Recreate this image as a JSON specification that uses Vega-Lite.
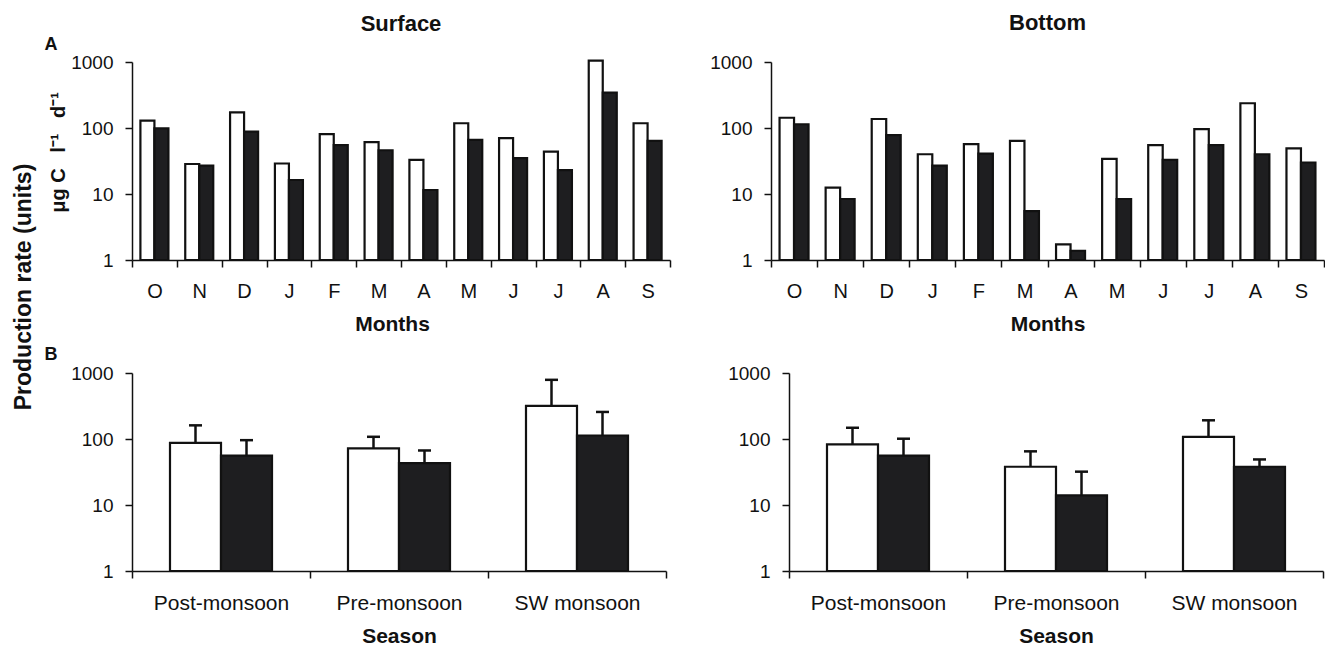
{
  "$schema": "https://vega.github.io/schema/vega-lite/v6.json",
  "padding": {"left": 12, "top": 12, "right": 0, "bottom": 0},
  "background": "white",
  "config": {
    "view": {"stroke": null},
    "font": "Liberation Sans",
    "title": {"font": "Liberation Sans", "fontSize": 22, "fontWeight": "bold", "color": "#111", "offset": 18, "frame": "group"},
    "axis": {"domainColor": "#111", "domainWidth": 1.5, "tickColor": "#111", "tickWidth": 1.5, "tickSize": 7, "labelFont": "Liberation Sans", "labelColor": "#111", "titleFont": "Liberation Sans", "titleColor": "#111", "titleFontWeight": "bold", "titleFontSize": 21, "grid": false},
    "axisX": {"labelFontSize": 20, "labelPadding": 14, "titlePadding": 12, "labelAngle": 0, "tickBand": "extent"},
    "axisY": {"labelFontSize": 19, "labelPadding": 12}
  },
  "title": {"text": "Production rate (units)", "orient": "left", "anchor": "middle", "fontSize": 23, "offset": 9, "frame": "bounds", "dx": 42},
  "datasets": {
    "months": [
      {"depth": "Surface", "month": "Oct", "series": "open", "value": 129},
      {"depth": "Surface", "month": "Oct", "series": "filled", "value": 99},
      {"depth": "Surface", "month": "Nov", "series": "open", "value": 28.5},
      {"depth": "Surface", "month": "Nov", "series": "filled", "value": 27},
      {"depth": "Surface", "month": "Dec", "series": "open", "value": 173},
      {"depth": "Surface", "month": "Dec", "series": "filled", "value": 88},
      {"depth": "Surface", "month": "Jan", "series": "open", "value": 29},
      {"depth": "Surface", "month": "Jan", "series": "filled", "value": 16.3},
      {"depth": "Surface", "month": "Feb", "series": "open", "value": 81},
      {"depth": "Surface", "month": "Feb", "series": "filled", "value": 55},
      {"depth": "Surface", "month": "Mar", "series": "open", "value": 61},
      {"depth": "Surface", "month": "Mar", "series": "filled", "value": 46},
      {"depth": "Surface", "month": "Apr", "series": "open", "value": 33},
      {"depth": "Surface", "month": "Apr", "series": "filled", "value": 11.5},
      {"depth": "Surface", "month": "May", "series": "open", "value": 118},
      {"depth": "Surface", "month": "May", "series": "filled", "value": 66},
      {"depth": "Surface", "month": "Jun", "series": "open", "value": 70},
      {"depth": "Surface", "month": "Jun", "series": "filled", "value": 35},
      {"depth": "Surface", "month": "Jul", "series": "open", "value": 44},
      {"depth": "Surface", "month": "Jul", "series": "filled", "value": 23},
      {"depth": "Surface", "month": "Aug", "series": "open", "value": 1050},
      {"depth": "Surface", "month": "Aug", "series": "filled", "value": 343},
      {"depth": "Surface", "month": "Sep", "series": "open", "value": 118},
      {"depth": "Surface", "month": "Sep", "series": "filled", "value": 64},
      {"depth": "Bottom", "month": "Oct", "series": "open", "value": 143},
      {"depth": "Bottom", "month": "Oct", "series": "filled", "value": 114},
      {"depth": "Bottom", "month": "Nov", "series": "open", "value": 12.5},
      {"depth": "Bottom", "month": "Nov", "series": "filled", "value": 8.4},
      {"depth": "Bottom", "month": "Dec", "series": "open", "value": 137},
      {"depth": "Bottom", "month": "Dec", "series": "filled", "value": 78},
      {"depth": "Bottom", "month": "Jan", "series": "open", "value": 40},
      {"depth": "Bottom", "month": "Jan", "series": "filled", "value": 27},
      {"depth": "Bottom", "month": "Feb", "series": "open", "value": 57},
      {"depth": "Bottom", "month": "Feb", "series": "filled", "value": 41},
      {"depth": "Bottom", "month": "Mar", "series": "open", "value": 64},
      {"depth": "Bottom", "month": "Mar", "series": "filled", "value": 5.5},
      {"depth": "Bottom", "month": "Apr", "series": "open", "value": 1.73},
      {"depth": "Bottom", "month": "Apr", "series": "filled", "value": 1.38},
      {"depth": "Bottom", "month": "May", "series": "open", "value": 34},
      {"depth": "Bottom", "month": "May", "series": "filled", "value": 8.4},
      {"depth": "Bottom", "month": "Jun", "series": "open", "value": 55},
      {"depth": "Bottom", "month": "Jun", "series": "filled", "value": 33},
      {"depth": "Bottom", "month": "Jul", "series": "open", "value": 96},
      {"depth": "Bottom", "month": "Jul", "series": "filled", "value": 55},
      {"depth": "Bottom", "month": "Aug", "series": "open", "value": 237},
      {"depth": "Bottom", "month": "Aug", "series": "filled", "value": 40},
      {"depth": "Bottom", "month": "Sep", "series": "open", "value": 49},
      {"depth": "Bottom", "month": "Sep", "series": "filled", "value": 30}
    ],
    "seasons": [
      {"depth": "Surface", "season": "Post-monsoon", "series": "open", "value": 87.5, "upper": 161},
      {"depth": "Surface", "season": "Post-monsoon", "series": "filled", "value": 56, "upper": 96},
      {"depth": "Surface", "season": "Pre-monsoon", "series": "open", "value": 72, "upper": 108},
      {"depth": "Surface", "season": "Pre-monsoon", "series": "filled", "value": 43, "upper": 67},
      {"depth": "Surface", "season": "SW monsoon", "series": "open", "value": 317, "upper": 788},
      {"depth": "Surface", "season": "SW monsoon", "series": "filled", "value": 113, "upper": 257},
      {"depth": "Bottom", "season": "Post-monsoon", "series": "open", "value": 83, "upper": 148},
      {"depth": "Bottom", "season": "Post-monsoon", "series": "filled", "value": 56, "upper": 101},
      {"depth": "Bottom", "season": "Pre-monsoon", "series": "open", "value": 38, "upper": 65},
      {"depth": "Bottom", "season": "Pre-monsoon", "series": "filled", "value": 14, "upper": 32},
      {"depth": "Bottom", "season": "SW monsoon", "series": "open", "value": 108, "upper": 192},
      {"depth": "Bottom", "season": "SW monsoon", "series": "filled", "value": 38, "upper": 49}
    ],
    "labelA": [{"label": "A"}],
    "labelB": [{"label": "B"}]
  },
  "spacing": 12,
  "resolve": {"scale": {"xOffset": "independent"}},
  "vconcat": [
    {
      "spacing": 38,
      "resolve": {"scale": {"xOffset": "independent"}},
      "hconcat": [
        {
          "width": 538,
          "height": 198,
          "title": {"text": "Surface", "offset": 0},
          "layer": [
            {
              "data": {"name": "months"},
              "transform": [{"filter": "datum.depth === 'Surface'"}],
              "mark": {"type": "bar", "stroke": "#111", "strokeWidth": 2.2},
              "encoding": {
                "x": {"field": "month", "type": "nominal", "sort": ["Oct", "Nov", "Dec", "Jan", "Feb", "Mar", "Apr", "May", "Jun", "Jul", "Aug", "Sep"], "scale": {"paddingInner": 0, "paddingOuter": 0}, "axis": {"title": "Months", "labelExpr": "substring(datum.label, 0, 1)", "titleX": 260}},
                "xOffset": {"field": "series", "type": "nominal", "sort": ["open", "filled"], "scale": {"paddingInner": 0, "paddingOuter": 0.6}},
                "y": {"field": "value", "type": "quantitative", "scale": {"type": "log", "domain": [1, 1000], "nice": false}, "axis": {"values": [1, 10, 100, 1000], "format": "d", "title": "μg C\u2002 l⁻¹\u2002 d⁻¹", "titleFontSize": 20, "titleX": -64, "titleY": 90}},
                "y2": {"datum": 1},
                "fill": {"field": "series", "type": "nominal", "scale": {"domain": ["open", "filled"], "range": ["#ffffff", "#1e1e20"]}, "legend": null}
              }
            },
            {
              "data": {"name": "labelA"},
              "mark": {"type": "text", "fontSize": 18, "fontWeight": "bold", "color": "#111", "dx": -81, "dy": -17},
              "encoding": {
                "x": {"datum": "Oct", "bandPosition": 0},
                "y": {"datum": 1000},
                "text": {"field": "label"}
              }
            }
          ]
        },
        {
          "width": 553,
          "height": 198,
          "title": {"text": "Bottom"},
          "data": {"name": "months"},
          "transform": [{"filter": "datum.depth === 'Bottom'"}],
          "mark": {"type": "bar", "stroke": "#111", "strokeWidth": 2.2},
          "encoding": {
            "x": {"field": "month", "type": "nominal", "sort": ["Oct", "Nov", "Dec", "Jan", "Feb", "Mar", "Apr", "May", "Jun", "Jul", "Aug", "Sep"], "scale": {"paddingInner": 0, "paddingOuter": 0}, "axis": {"title": "Months", "labelExpr": "substring(datum.label, 0, 1)"}},
            "xOffset": {"field": "series", "type": "nominal", "sort": ["open", "filled"], "scale": {"paddingInner": 0, "paddingOuter": 0.59}},
            "y": {"field": "value", "type": "quantitative", "scale": {"type": "log", "domain": [1, 1000], "nice": false}, "axis": {"values": [1, 10, 100, 1000], "format": "d", "title": null}},
            "y2": {"datum": 1},
            "fill": {"field": "series", "type": "nominal", "scale": {"domain": ["open", "filled"], "range": ["#ffffff", "#1e1e20"]}, "legend": null}
          }
        }
      ]
    },
    {
      "spacing": 60,
      "resolve": {"scale": {"xOffset": "independent"}},
      "hconcat": [
        {
          "width": 534,
          "height": 198,
          "layer": [
            {
              "data": {"name": "seasons"},
              "transform": [{"filter": "datum.depth === 'Surface'"}],
              "mark": {"type": "bar", "stroke": "#111", "strokeWidth": 2.2},
              "encoding": {
                "x": {"field": "season", "type": "nominal", "sort": ["Post-monsoon", "Pre-monsoon", "SW monsoon"], "scale": {"paddingInner": 0, "paddingOuter": 0}, "axis": {"title": "Season", "labelFontSize": 21}},
                "xOffset": {"field": "series", "type": "nominal", "sort": ["open", "filled"], "scale": {"paddingInner": 0, "paddingOuter": 0.745}},
                "y": {"field": "value", "type": "quantitative", "scale": {"type": "log", "domain": [1, 1000], "nice": false}, "axis": {"values": [1, 10, 100, 1000], "format": "d", "title": null}},
                "y2": {"datum": 1},
                "fill": {"field": "series", "type": "nominal", "scale": {"domain": ["open", "filled"], "range": ["#ffffff", "#1e1e20"]}, "legend": null}
              }
            },
            {
              "data": {"name": "seasons"},
              "transform": [{"filter": "datum.depth === 'Surface'"}],
              "mark": {"type": "rule", "color": "#111", "strokeWidth": 2.5},
              "encoding": {
                "x": {"field": "season", "type": "nominal", "sort": ["Post-monsoon", "Pre-monsoon", "SW monsoon"]},
                "xOffset": {"field": "series", "type": "nominal", "sort": ["open", "filled"]},
                "y": {"field": "value", "type": "quantitative"},
                "y2": {"field": "upper"}
              }
            },
            {
              "data": {"name": "seasons"},
              "transform": [{"filter": "datum.depth === 'Surface'"}],
              "mark": {"type": "tick", "color": "#111", "size": 13, "thickness": 2.5, "opacity": 1},
              "encoding": {
                "x": {"field": "season", "type": "nominal", "sort": ["Post-monsoon", "Pre-monsoon", "SW monsoon"]},
                "xOffset": {"field": "series", "type": "nominal", "sort": ["open", "filled"]},
                "y": {"field": "upper", "type": "quantitative"}
              }
            },
            {
              "data": {"name": "labelB"},
              "mark": {"type": "text", "fontSize": 18, "fontWeight": "bold", "color": "#111", "dx": -81, "dy": -18},
              "encoding": {
                "x": {"datum": "Post-monsoon", "bandPosition": 0},
                "y": {"datum": 1000},
                "text": {"field": "label"}
              }
            }
          ]
        },
        {
          "width": 534,
          "height": 198,
          "layer": [
            {
              "data": {"name": "seasons"},
              "transform": [{"filter": "datum.depth === 'Bottom'"}],
              "mark": {"type": "bar", "stroke": "#111", "strokeWidth": 2.2},
              "encoding": {
                "x": {"field": "season", "type": "nominal", "sort": ["Post-monsoon", "Pre-monsoon", "SW monsoon"], "scale": {"paddingInner": 0, "paddingOuter": 0}, "axis": {"title": "Season", "labelFontSize": 21}},
                "xOffset": {"field": "series", "type": "nominal", "sort": ["open", "filled"], "scale": {"paddingInner": 0, "paddingOuter": 0.745}},
                "y": {"field": "value", "type": "quantitative", "scale": {"type": "log", "domain": [1, 1000], "nice": false}, "axis": {"values": [1, 10, 100, 1000], "format": "d", "title": null}},
                "y2": {"datum": 1},
                "fill": {"field": "series", "type": "nominal", "scale": {"domain": ["open", "filled"], "range": ["#ffffff", "#1e1e20"]}, "legend": null}
              }
            },
            {
              "data": {"name": "seasons"},
              "transform": [{"filter": "datum.depth === 'Bottom'"}],
              "mark": {"type": "rule", "color": "#111", "strokeWidth": 2.5},
              "encoding": {
                "x": {"field": "season", "type": "nominal", "sort": ["Post-monsoon", "Pre-monsoon", "SW monsoon"]},
                "xOffset": {"field": "series", "type": "nominal", "sort": ["open", "filled"]},
                "y": {"field": "value", "type": "quantitative"},
                "y2": {"field": "upper"}
              }
            },
            {
              "data": {"name": "seasons"},
              "transform": [{"filter": "datum.depth === 'Bottom'"}],
              "mark": {"type": "tick", "color": "#111", "size": 13, "thickness": 2.5, "opacity": 1},
              "encoding": {
                "x": {"field": "season", "type": "nominal", "sort": ["Post-monsoon", "Pre-monsoon", "SW monsoon"]},
                "xOffset": {"field": "series", "type": "nominal", "sort": ["open", "filled"]},
                "y": {"field": "upper", "type": "quantitative"}
              }
            }
          ]
        }
      ]
    }
  ]
}
